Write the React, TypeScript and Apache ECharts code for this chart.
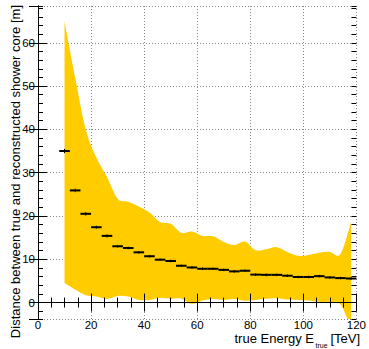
import React, { useEffect, useRef } from 'react';
import * as echarts from 'echarts';

// Bin centres of true energy [TeV]
const energies = [10, 14, 18, 22, 26, 30, 34, 38, 42, 46, 50, 54, 58, 62, 66, 70, 74, 78, 82, 86, 90, 94, 98, 102, 106, 110, 114, 118];
// Mean distance between true and reconstructed core [m]
const meanDist = [35.0, 25.9, 20.5, 17.4, 15.4, 13.0, 12.6, 11.6, 10.7, 9.9, 9.6, 8.5, 8.1, 7.8, 7.8, 7.55, 7.2, 7.35, 6.45, 6.4, 6.4, 6.2, 5.9, 5.9, 6.1, 5.8, 5.65, 5.55];
// Statistical error of the mean
const meanErr = [0.5, 0.4, 0.4, 0.35, 0.35, 0.3, 0.3, 0.3, 0.3, 0.3, 0.3, 0.3, 0.3, 0.3, 0.3, 0.3, 0.3, 0.3, 0.3, 0.3, 0.3, 0.3, 0.3, 0.3, 0.3, 0.3, 0.3, 0.3];
// Spread band (upper / lower edge)
const bandUpper = [65, 52, 40, 33.5, 29, 24, 23.3, 22.2, 20.8, 18.6, 18.2, 16.1, 16.4, 15.4, 15.3, 14.0, 13.3, 14.1, 12.1, 12.3, 12.8, 11.7, 10.8, 11.0, 11.5, 11.7, 11.2, 18.6];
const bandLower = [4.5, 3.0, 1.7, 1.4, 0.8, 1.5, 1.4, 0.6, 0.6, 1.1, 0.85, 0.9, -0.3, 0.5, 0.8, 0.6, 0.8, 0.4, 0.6, 0.85, 1.0, 0.7, 0.6, 0.5, 0.2, 0.1, -0.4, -6];
const binWidth = 4;

const xRange = [0, 120];
const yRange = [-3.8, 68.5];
const xMajor = 20;
const xMinorSplit = 4;
const yMajor = 10;
const yMinor = 2;

const yTitle = 'Distance between true and reconstructed shower core [m]';
const xTitleMain = 'true Energy E';
const xTitleSub = 'true';
const xTitleUnit = '[TeV]';

function smoothSegments(pts: number[][]): string {
  let d = '';
  const n = pts.length;
  for (let i = 0; i < n - 1; i++) {
    const p0 = pts[Math.max(i - 1, 0)];
    const p1 = pts[i];
    const p2 = pts[i + 1];
    const p3 = pts[Math.min(i + 2, n - 1)];
    const c1x = p1[0] + (p2[0] - p0[0]) / 6;
    const c1y = p1[1] + (p2[1] - p0[1]) / 6;
    const c2x = p2[0] - (p3[0] - p1[0]) / 6;
    const c2y = p2[1] - (p3[1] - p1[1]) / 6;
    d += ` C ${c1x} ${c1y} ${c2x} ${c2y} ${p2[0]} ${p2[1]}`;
  }
  return d;
}

export default function App() {
  const ref = useRef<HTMLDivElement>(null);
  useEffect(() => {
    if (!ref.current) return;
    const chart = echarts.init(ref.current, null, { renderer: 'svg' });
    const font = "'Liberation Sans', Arial, Helvetica, sans-serif";
    const black = '#000';
    const tickLine = { color: black, width: 1 };

    const baseX = { type: 'value', min: xRange[0], max: xRange[1], interval: xMajor };
    const baseY = { type: 'value', min: yRange[0], max: yRange[1] };

    const option: any = {
      animation: false,
      textStyle: { fontFamily: font },
      grid: { left: 38, right: 9, top: 6, bottom: 30, containLabel: false },
      xAxis: [
        {
          ...baseX, position: 'bottom', z: 10,
          axisLine: { show: true, lineStyle: tickLine },
          axisTick: { show: true, inside: true, length: 9, lineStyle: tickLine },
          minorTick: { show: true, splitNumber: xMinorSplit, length: 5, lineStyle: tickLine },
          splitLine: { show: false },
          axisLabel: { show: true, margin: 0.5, fontSize: 11.5, lineHeight: 11, color: black, fontFamily: font },
        },
        {
          ...baseX, position: 'top', z: 10,
          axisLine: { show: true, lineStyle: tickLine },
          axisTick: { show: true, inside: true, length: 9, lineStyle: tickLine },
          minorTick: { show: true, splitNumber: xMinorSplit, length: 5, lineStyle: tickLine },
          splitLine: { show: false },
          axisLabel: { show: false },
        },
        {
          ...baseX, position: 'bottom', z: 0,
          axisLine: { show: false }, axisTick: { show: false }, axisLabel: { show: false },
          splitLine: { show: true, lineStyle: { color: '#888', width: 1, type: [1, 2] } },
        },
      ],
      yAxis: [
        {
          ...baseY, minInterval: yMajor, maxInterval: yMajor, position: 'left', z: 10,
          axisLine: { show: true, lineStyle: tickLine },
          axisTick: { show: true, inside: true, length: 9, lineStyle: tickLine },
          splitLine: { show: false },
          axisLabel: { show: true, margin: 3, fontSize: 11.5, color: black, fontFamily: font, showMinLabel: false, showMaxLabel: false },
        },
        {
          ...baseY, minInterval: yMinor, maxInterval: yMinor, position: 'left', z: 10,
          axisLine: { show: false },
          axisTick: { show: true, inside: true, length: 5, lineStyle: tickLine },
          splitLine: { show: false }, axisLabel: { show: false },
        },
        {
          ...baseY, minInterval: yMajor, maxInterval: yMajor, position: 'right', z: 10,
          axisLine: { show: true, lineStyle: tickLine },
          axisTick: { show: true, inside: true, length: 9, lineStyle: tickLine },
          splitLine: { show: false }, axisLabel: { show: false },
        },
        {
          ...baseY, minInterval: yMinor, maxInterval: yMinor, position: 'right', z: 10,
          axisLine: { show: false },
          axisTick: { show: true, inside: true, length: 5, lineStyle: tickLine },
          splitLine: { show: false }, axisLabel: { show: false },
        },
        {
          ...baseY, minInterval: yMajor, maxInterval: yMajor, position: 'left', z: 0,
          axisLine: { show: false }, axisTick: { show: false }, axisLabel: { show: false },
          splitLine: { show: true, lineStyle: { color: '#888', width: 1, type: [1, 2] } },
        },
      ],
      series: [
        {
          type: 'custom', xAxisIndex: 0, yAxisIndex: 0, z: 2, clip: true, silent: true,
          data: energies.map((e, i) => [e, bandLower[i], bandUpper[i]]),
          renderItem: (params: any, api: any) => {
            if (params.dataIndex !== 0) return null;
            const up = energies.map((e, i) => api.coord([e, bandUpper[i]]));
            const lo = energies.map((e, i) => api.coord([e, bandLower[i]])).reverse();
            let d = `M ${up[0][0]} ${up[0][1]}`;
            d += smoothSegments(up);
            d += ` L ${lo[0][0]} ${lo[0][1]}`;
            d += smoothSegments(lo);
            d += ' Z';
            return {
              type: 'path',
              shape: { pathData: d },
              style: { fill: '#FFCC00', stroke: 'none' },
            };
          },
        },
        {
          type: 'custom', xAxisIndex: 0, yAxisIndex: 0, z: 5, clip: true,
          data: energies.map((e, i) => [e, meanDist[i], meanErr[i]]),
          renderItem: (params: any, api: any) => {
            const x = api.value(0);
            const y = api.value(1);
            const e = api.value(2);
            const l = api.coord([x - binWidth / 2, y]);
            const r = api.coord([x + binWidth / 2, y]);
            const t = api.coord([x, y + e]);
            const b = api.coord([x, y - e]);
            return {
              type: 'group',
              children: [
                { type: 'line', shape: { x1: l[0], y1: l[1], x2: r[0], y2: r[1] }, style: { stroke: black, lineWidth: 2 } },
                { type: 'line', shape: { x1: t[0], y1: t[1], x2: b[0], y2: b[1] }, style: { stroke: black, lineWidth: 1 } },
              ],
            };
          },
        },
      ],
      graphic: [
        {
          type: 'text', x: 15.5, y: 5, rotation: Math.PI / 2,
          style: { text: yTitle, fontSize: 13, fontFamily: font, fill: black, align: 'right', verticalAlign: 'middle' },
        },
        {
          type: 'text', x: 314, y: 338.5,
          style: { text: xTitleMain, fontSize: 13, lineHeight: 11, fontFamily: font, fill: black, align: 'right', verticalAlign: 'middle' },
        },
        {
          type: 'text', x: 315.5, y: 345.5,
          style: { text: xTitleSub, fontSize: 7, lineHeight: 6, fontFamily: font, fill: black, align: 'left', verticalAlign: 'middle' },
        },
        {
          type: 'text', x: 360, y: 338.5,
          style: { text: xTitleUnit, fontSize: 13, lineHeight: 11, fontFamily: font, fill: black, align: 'right', verticalAlign: 'middle' },
        },
      ],
    };
    chart.setOption(option);
    return () => chart.dispose();
  }, []);
  return <div ref={ref} style={{ position: 'absolute', left: 0, top: 0, width: 369, height: 349 }} />;
}
